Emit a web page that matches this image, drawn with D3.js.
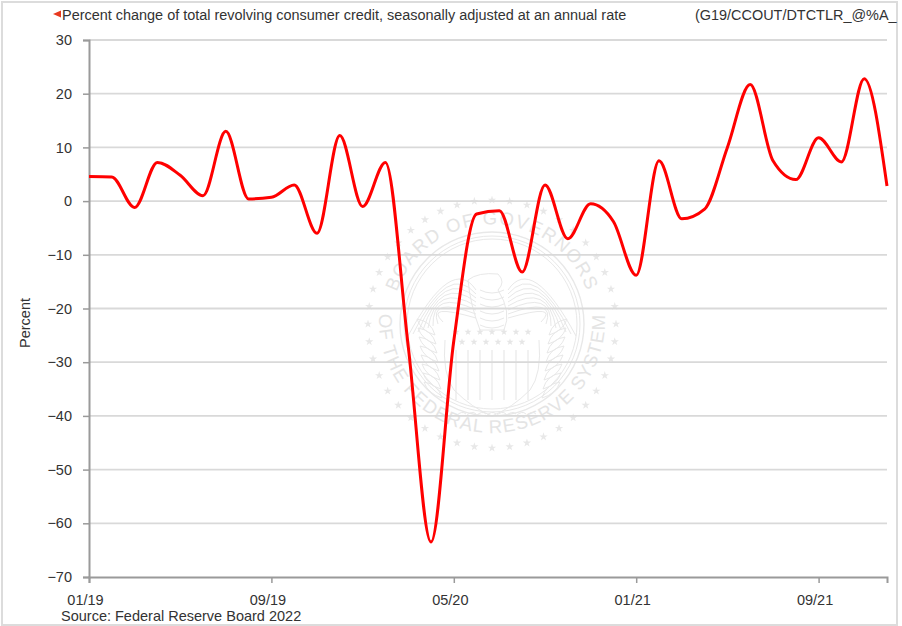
<!DOCTYPE html>
<html><head><meta charset="utf-8">
<script src="https://cdn.jsdelivr.net/npm/d3@7"></script>
<style>html,body{margin:0;padding:0;background:#fff}svg{display:block}text{font-family:"Liberation Sans",Arial,sans-serif}</style>
</head><body><svg id="c" width="902" height="626"></svg>
<script>
const titleText = "Percent change of total revolving consumer credit, seasonally adjusted at an annual rate";
const seriesCode = "(G19/CCOUT/DTCTLR_@%A_";
const sourceText = "Source: Federal Reserve Board 2022";
const yLabel = "Percent";
const months = ["01/19","02/19","03/19","04/19","05/19","06/19","07/19","08/19","09/19","10/19","11/19","12/19",
 "01/20","02/20","03/20","04/20","05/20","06/20","07/20","08/20","09/20","10/20","11/20","12/20",
 "01/21","02/21","03/21","04/21","05/21","06/21","07/21","08/21","09/21","10/21","11/21","12/21"];
const values = [4.6,4.5,-1.2,7.2,4.8,1.0,13.0,0.4,0.7,3.0,-6.0,12.2,
 -1.0,7.2,-27,-63.5,-26,-2.4,-1.8,-13.2,3.0,-7.0,-0.5,-3.8,
 -13.8,7.5,-3.3,-1.5,10.0,21.7,7.5,4.0,11.8,7.3,22.8,2.8];
const yTicks = [30,20,10,0,-10,-20,-30,-40,-50,-60,-70];
const xTicks = ["01/19","09/19","05/20","01/21","09/21"];

const svg = d3.select("#c");
const x = d3.scalePoint().domain(months).range([89,887]);
const y = d3.scaleLinear().domain([-70,30]).range([577,40]);

// frame
svg.append("rect").attr("x",2).attr("y",2).attr("width",895).attr("height",623).attr("fill","#fff").attr("stroke","#dcdcdc").attr("stroke-width",2);

// seal watermark
const seal = svg.append("g").attr("transform","translate(492,324)").attr("fill","none").attr("stroke","#e8e8e8");
[92,88,85].forEach(r=>seal.append("circle").attr("r",r).attr("stroke-width",r===92?1.4:1));
const defs = svg.append("defs");
defs.append("path").attr("id","arcTop").attr("d","M-98,-23 A101,101 0 0 1 98,-23");
defs.append("path").attr("id","arcBot").attr("d","M-113,-4 A113,113 0 0 0 113,-4");
seal.append("text").attr("fill","#e4e4e4").attr("stroke","none").attr("font-size",18.5).attr("letter-spacing",1.5)
  .append("textPath").attr("href","#arcTop").attr("startOffset","50%").attr("text-anchor","middle").text("BOARD OF GOVERNORS");
seal.append("text").attr("fill","#e4e4e4").attr("stroke","none").attr("font-size",18.5).attr("letter-spacing",1.2)
  .append("textPath").attr("href","#arcBot").attr("startOffset","50%").attr("text-anchor","middle").text("OF THE FEDERAL RESERVE SYSTEM");
const star = d3.symbol().type(d3.symbolStar).size(22);
d3.range(44).forEach(i=>{const a=i/44*2*Math.PI;
  seal.append("path").attr("d",star).attr("fill","#e8e8e8").attr("stroke","none")
   .attr("transform",`translate(${124*Math.cos(a)},${124*Math.sin(a)})`);});
// shield
d3.range(7).forEach(i=>{seal.append("line").attr("x1",-36+i*12).attr("x2",-36+i*12).attr("y1",26).attr("y2",76).attr("stroke-width",1.2);});
seal.append("path").attr("d","M-47,16 Q-50,50 -38,66 Q-20,84 0,92 Q20,84 38,66 Q50,50 47,16").attr("stroke-width",1);
d3.range(13).forEach(i=>{seal.append("path").attr("d",d3.symbol().type(d3.symbolStar).size(16)).attr("fill","#e6e6e6").attr("stroke","none")
  .attr("transform",`translate(${i<7?-36+i*12:-30+(i-7)*12},${i<7?8:18})`);});
// wings, body, branches
[-1,1].forEach(s=>{
  d3.range(8).forEach(i=>{seal.append("path").attr("stroke-width",1)
    .attr("d",`M${s*16},${-34+i*4} Q${s*(40+i*4)},${-70+i*7} ${s*(84-i*5)},${12-i*2}`);
  });
  d3.range(8).forEach(i=>{seal.append("path").attr("stroke-width",1)
    .attr("d",`M${s*(50+i)},${74-i*9} q${s*14},-4 ${s*18},-16 q${-s*14},2 ${-s*18},16`);
  });
});
seal.append("path").attr("stroke-width",1).attr("d","M-24,-44 Q-14,-52 6,-50 Q14,-42 6,-34 Q20,-12 12,6 L-12,6 Q-22,-20 -24,-44 Z");
d3.range(6).forEach(i=>seal.append("path").attr("stroke-width",1).attr("d",`M-12,${-34+i*7} q12,6 24,0`));
d3.range(8).forEach(i=>seal.append("path").attr("stroke-width",1).attr("d",`M${-36+i*10},92 q6,-6 10,-2`));

// grid
svg.append("g").selectAll("line").data(yTicks.filter(d=>d!==-70)).join("line")
  .attr("x1",89).attr("x2",887).attr("y1",d=>y(d)).attr("y2",d=>y(d))
  .attr("stroke","#d9d9d9").attr("stroke-width",1.8);

// axes
const yAxis = d3.axisLeft(y).tickValues(yTicks).tickSize(6).tickPadding(11);
const xAxis = d3.axisBottom(x).tickValues(xTicks).tickSize(6).tickPadding(12);
const gy = svg.append("g").attr("transform","translate(89,0)").call(yAxis);
const gx = svg.append("g").attr("transform","translate(0,577)").call(xAxis);
[gy,gx].forEach(g=>{
  g.select(".domain").attr("stroke","#9a9a9a").attr("stroke-width",2);
  g.selectAll(".tick line").attr("stroke","#9a9a9a").attr("stroke-width",1.5);
  g.selectAll("text").attr("fill","#333").attr("font-size",14.5).attr("font-family",'"Liberation Sans",Arial,sans-serif');
});
gx.selectAll("text").attr("dx",-4);

// line
svg.append("path").datum(values).attr("fill","none").attr("stroke","#ff0000").attr("stroke-width",3)
  .attr("stroke-linejoin","round")
  .attr("d",d3.line().x((d,i)=>x(months[i])).y(d=>y(d)).curve(d3.curveMonotoneX));

// texts
svg.append("path").attr("d","M53,14 L61,10.5 L61,17.5 Z").attr("fill","#e8391f");
svg.append("text").attr("x",62).attr("y",20).attr("font-size",14.45).attr("fill","#333").text(titleText);
svg.append("text").attr("x",695).attr("y",20).attr("font-size",14.45).attr("fill","#333").text(seriesCode);
svg.append("text").attr("x",61).attr("y",621).attr("font-size",14.5).attr("fill","#333").text(sourceText);
svg.append("text").attr("transform","translate(30,323) rotate(-90)").attr("text-anchor","middle").attr("font-size",14.5).attr("fill","#333").text(yLabel);
</script></body></html>
